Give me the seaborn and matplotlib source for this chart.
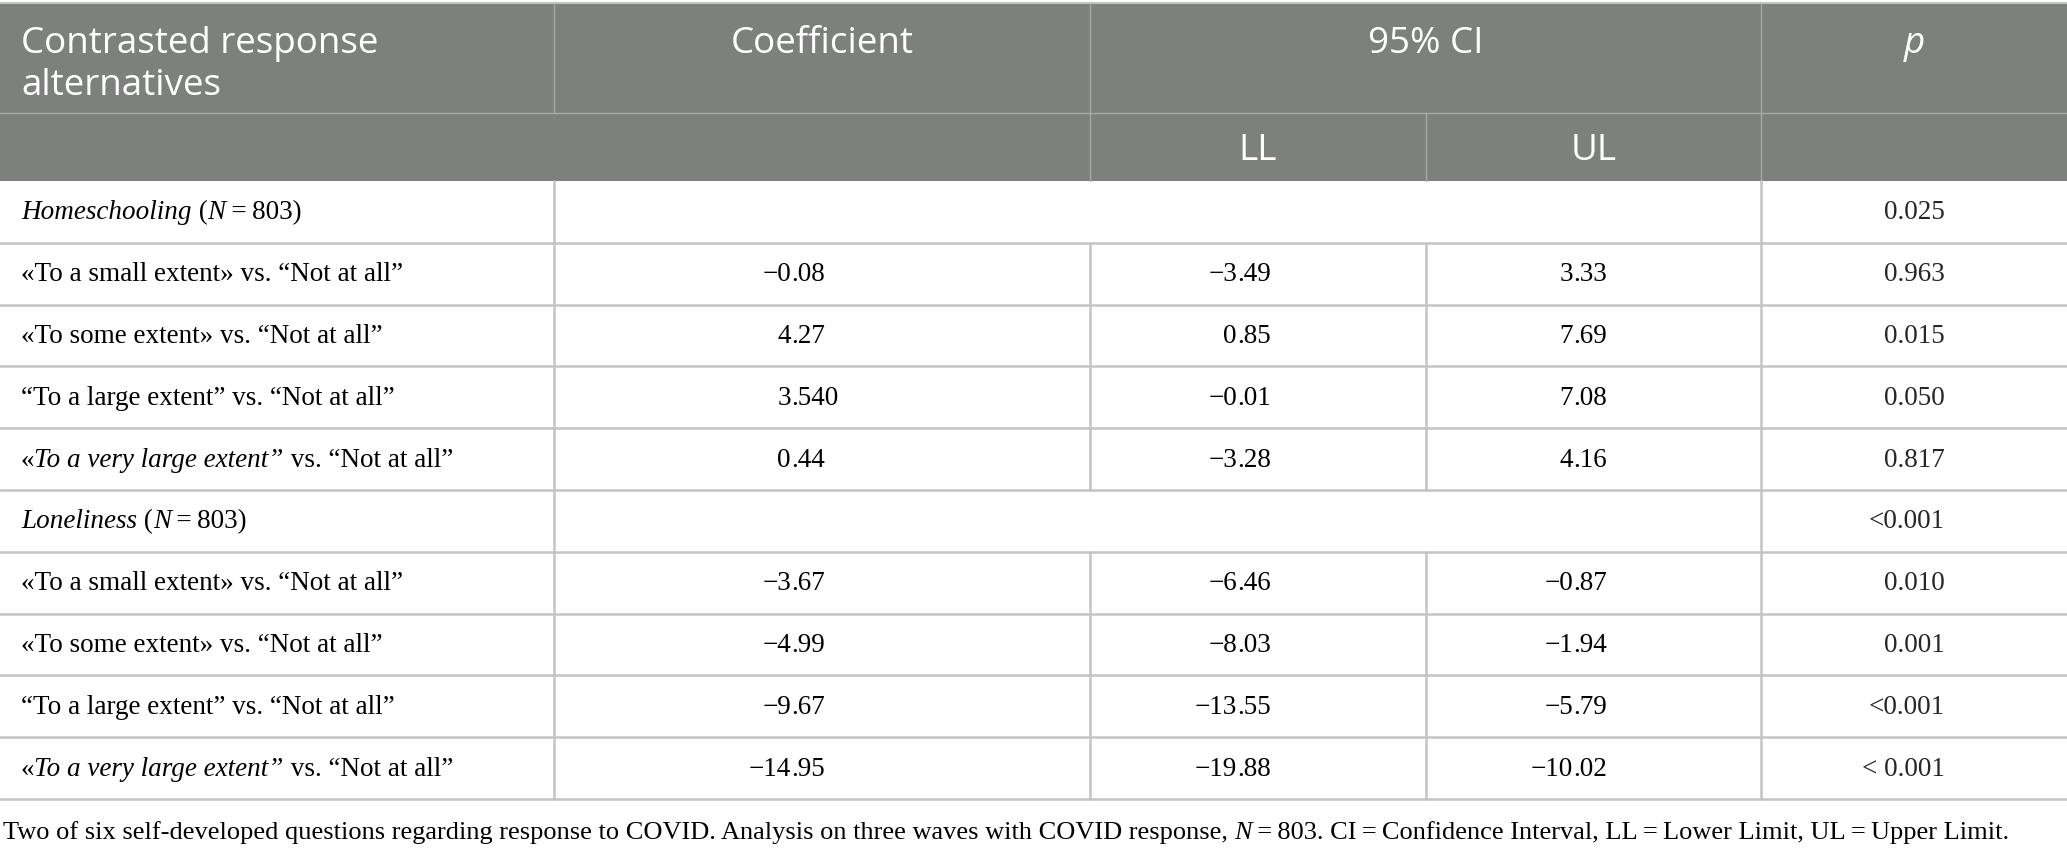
import matplotlib
matplotlib.use("Agg")
import matplotlib.pyplot as plt
import seaborn as sns

# --- table content ---
header_top = ["Contrasted response\nalternatives", "Coefficient", "95% CI", "p"]
header_sub = ["LL", "UL"]

groups = ["Homeschooling", "Loneliness"]
group_n = [803, 803]
group_p = ["0.025", "<0.001"]

contrasts = [
    "«To a small extent» vs. “Not at all”",
    "«To some extent» vs. “Not at all”",
    "“To a large extent” vs. “Not at all”",
    "«To a very large extent” vs. “Not at all”",
]
coef = [["\u22120.08", "4.27", "3.540", "0.44"],
        ["\u22123.67", "\u22124.99", "\u22129.67", "\u221214.95"]]
ci_ll = [["\u22123.49", "0.85", "\u22120.01", "\u22123.28"],
         ["\u22126.46", "\u22128.03", "\u221213.55", "\u221219.88"]]
ci_ul = [["3.33", "7.69", "7.08", "4.16"],
         ["\u22120.87", "\u22121.94", "\u22125.79", "\u221210.02"]]
p_vals = [["0.963", "0.015", "0.050", "0.817"],
          ["0.010", "0.001", "<0.001", "< 0.001"]]

footnote = ("Two of six self-developed questions regarding response to COVID. "
            "Analysis on three waves with COVID response, ")
footnote_end = ". CI\u2009=\u2009Confidence Interval, LL\u2009=\u2009Lower Limit, UL\u2009=\u2009Upper Limit."

# --- layout (pixels) ---
W, H = 2067, 853
col_x = [0, 554, 1090, 1426, 1761, W]
top, h1, h2 = 4, 114, 182
row_h = 61.8
header_bg = "#7e807e"
head_line = "#a8a8a8"
body_line = "#c4c4c4"
SERIF = "Liberation Serif"
SANS = "Open Sans"
body_fs = 19.5
head_fs = 26.5

sns.set_theme(style="white")
plt.rcParams["font.family"] = [SERIF, "DejaVu Serif"]

fig = plt.figure(figsize=(W / 100, H / 100), dpi=100)
ax = fig.add_axes([0, 0, 1, 1])
ax.set_xlim(0, W)
ax.set_ylim(H, 0)
ax.axis("off")
renderer = fig.canvas.get_renderer()


def text_width(s, **kw):
    t = ax.text(0, 0, s, **kw)
    bb = t.get_window_extent(renderer=renderer)
    t.remove()
    return bb.width


def draw_runs(x, y, runs, fs=body_fs):
    # runs of (text, italic?) drawn one after another
    for s, it in runs:
        kw = dict(fontsize=fs, family=SERIF, style="italic" if it else "normal")
        ax.text(x, y, s, ha="left", va="center", color="black", **kw)
        x += text_width(s, **kw)


def decimal_text(xdot, y, s):
    kw = dict(fontsize=body_fs, family=SERIF, va="center", color="black")
    whole, frac = s.split(".")
    ax.text(xdot, y, whole, ha="right", **kw)
    ax.text(xdot, y, "." + frac, ha="left", **kw)


# header background
ax.add_patch(plt.Rectangle((0, top), W, h2 - top, color=header_bg, lw=0))
ax.plot([0, W], [top, top], color=body_line, lw=1.5)
ax.plot([0, W], [h1, h1], color=head_line, lw=1)
for xv in [col_x[1], col_x[2], col_x[4]]:
    ax.plot([xv, xv], [top, h1], color=head_line, lw=1)
for xv in [col_x[2], col_x[3], col_x[4]]:
    ax.plot([xv, xv], [h1, h2], color=head_line, lw=1)

# header text
hkw = dict(color="white", fontsize=head_fs, family=SANS, va="center")
ax.text(21, 44, "Contrasted response", ha="left", **hkw)
ax.text(21, 86, "alternatives", ha="left", **hkw)
ax.text((col_x[1] + col_x[2]) / 2, 44, header_top[1], ha="center", **hkw)
ax.text((col_x[2] + col_x[4]) / 2, 44, header_top[2], ha="center", **hkw)
ax.text((col_x[4] + col_x[5]) / 2, 44, header_top[3], ha="center", style="italic", **hkw)
ax.text((col_x[2] + col_x[3]) / 2, 151, header_sub[0], ha="center", **hkw)
ax.text((col_x[3] + col_x[4]) / 2, 151, header_sub[1], ha="center", **hkw)

# body
dot_x = [791, 1237, 1573]
p_right = 1945
y0 = h2
for g in range(len(groups)):
    # group row
    yc = y0 + row_h / 2
    draw_runs(21, yc, [(groups[g], True), (" (", False), ("N", True),
                       ("\u2009=\u2009" + str(group_n[g]) + ")", False)])
    ax.text(p_right, yc, group_p[g], ha="right", va="center",
            fontsize=body_fs, family=SERIF)
    for xv in [col_x[1], col_x[4]]:
        ax.plot([xv, xv], [y0, y0 + row_h], color=body_line, lw=1.8)
    ax.plot([0, W], [y0 + row_h, y0 + row_h], color=body_line, lw=1.8)
    y0 += row_h
    for i, lab in enumerate(contrasts):
        yc = y0 + row_h / 2
        if i == 3:
            head, tail = lab.split(" vs.")
            draw_runs(21, yc, [("«", False), (head[1:], True), (" vs." + tail, False)])
        else:
            draw_runs(21, yc, [(lab, False)])
        decimal_text(dot_x[0], yc, coef[g][i])
        decimal_text(dot_x[1], yc, ci_ll[g][i])
        decimal_text(dot_x[2], yc, ci_ul[g][i])
        ax.text(p_right, yc, p_vals[g][i], ha="right", va="center",
                fontsize=body_fs, family=SERIF)
        for xv in col_x[1:5]:
            ax.plot([xv, xv], [y0, y0 + row_h], color=body_line, lw=1.8)
        ax.plot([0, W], [y0 + row_h, y0 + row_h], color=body_line, lw=1.8)
        y0 += row_h

# footnote
draw_runs(3, 833, [(footnote, False), ("N", True), ("\u2009=\u2009803" + footnote_end, False)],
          fs=19)

fig.savefig("out.png", dpi=100, facecolor="white")
